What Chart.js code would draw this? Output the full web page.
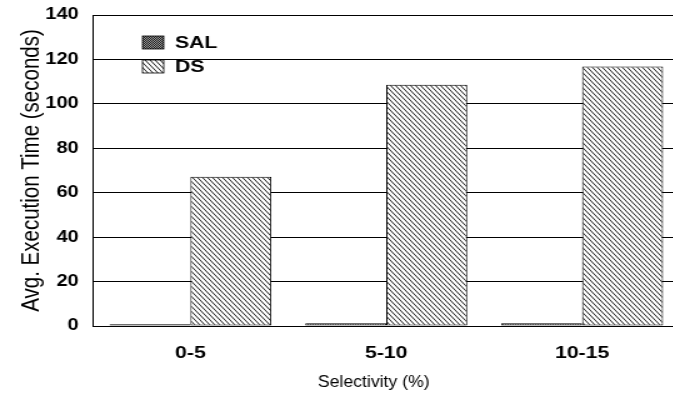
<!DOCTYPE html>
<html>
<head>
<meta charset="utf-8">
<script src="https://cdn.jsdelivr.net/npm/chart.js@4/dist/chart.umd.min.js"></script>
<style>
    html, body { margin: 0; padding: 0; background: #fff; overflow: hidden; }
    #grafico { display: block; }
</style>
</head>
<body>
<canvas id="grafico" width="544" height="394" style="width:680px;height:394px"></canvas>
<script>
const categorias = ['0-5', '5-10', '10-15'];
const valoresSAL = [0.8, 1.2, 1.2];
const valoresDS = [67.2, 108.6, 116.8];
const etiquetasSerie = ['SAL', 'DS'];
const ticksY = [0, 20, 40, 60, 80, 100, 120, 140];
const tituloX = 'Selectivity (%)';
const tituloY = 'Avg. Execution Time (seconds)';

const fuente = '"Liberation Sans", Arial, Helvetica, sans-serif';

function crearPatronSAL() {
    const c = document.createElement('canvas');
    c.width = 2;
    c.height = 2;
    const ctx = c.getContext('2d');
    ctx.fillStyle = '#9a9a9a';
    ctx.fillRect(0, 0, 2, 2);
    ctx.fillStyle = '#1a1a1a';
    ctx.fillRect(0, 0, 1, 1);
    ctx.fillRect(1, 1, 1, 1);
    return ctx.createPattern(c, 'repeat');
}

function crearPatronDS() {
    const w = 4, h = 5;
    const c = document.createElement('canvas');
    c.width = w;
    c.height = h;
    const ctx = c.getContext('2d');
    ctx.fillStyle = '#fff';
    ctx.fillRect(0, 0, w, h);
    ctx.strokeStyle = '#000';
    ctx.lineWidth = 0.9;
    [-w, 0, w].forEach((dx) => {
        ctx.beginPath();
        ctx.moveTo(dx - w, -h);
        ctx.lineTo(dx + 2 * w, 2 * h);
        ctx.stroke();
    });
    return ctx.createPattern(c, 'repeat');
}

const patronSAL = crearPatronSAL();
const patronDS = crearPatronDS();

const leyendaInterna = {
    id: 'leyendaInterna',
    afterDraw(chart) {
        const ctx = chart.ctx;
        const filas = [
            { texto: etiquetasSerie[0], patron: patronSAL, y: 36 },
            { texto: etiquetasSerie[1], patron: patronDS, y: 60 }
        ];
        ctx.save();
        filas.forEach((fila) => {
            ctx.fillStyle = fila.patron;
            ctx.fillRect(114, fila.y, 17, 13);
            ctx.strokeStyle = '#000';
            ctx.lineWidth = 0.8;
            ctx.strokeRect(114, fila.y, 17, 13);
            ctx.fillStyle = '#000';
            ctx.font = 'bold 17px ' + fuente;
            ctx.textBaseline = 'middle';
            ctx.textAlign = 'left';
            ctx.fillText(fila.texto, 140, fila.y + 7);
        });
        ctx.restore();
    }
};

// titulo del eje x, algo mas estrecho que el resto del texto
const tituloEjeX = {
    id: 'tituloEjeX',
    afterDraw(chart) {
        const ctx = chart.ctx;
        ctx.save();
        ctx.translate(299, 382);
        ctx.scale(0.83, 1);
        ctx.fillStyle = '#000';
        ctx.font = '17px ' + fuente;
        ctx.textAlign = 'center';
        ctx.textBaseline = 'middle';
        ctx.fillText(tituloX, 0, 0);
        ctx.restore();
    }
};

new Chart(document.getElementById('grafico'), {
    type: 'bar',
    data: {
        labels: categorias,
        datasets: [
            {
                label: etiquetasSerie[0],
                data: valoresSAL,
                backgroundColor: patronSAL,
                borderColor: '#000',
                borderWidth: 0.8,
                borderSkipped: false
            },
            {
                label: etiquetasSerie[1],
                data: valoresDS,
                backgroundColor: patronDS,
                borderColor: '#000',
                borderWidth: 1,
                borderSkipped: false
            }
        ]
    },
    options: {
        responsive: false,
        animation: false,
        devicePixelRatio: 1,
        layout: { padding: { top: 15, right: 0, left: 0, bottom: 0 } },
        plugins: {
            legend: { display: false },
            tooltip: { enabled: false }
        },
        datasets: {
            bar: { categoryPercentage: 0.827, barPercentage: 1 }
        },
        scales: {
            x: {
                grid: { display: false, drawTicks: false },
                border: { display: true, color: '#000', width: 1 },
                ticks: {
                    color: '#000',
                    padding: 17,
                    font: { family: fuente, size: 17, weight: 'bold' }
                },
                title: { display: false },
                afterFit(scale) {
                    scale.height = 68;
                    scale.paddingLeft = 0;
                    scale.paddingRight = 0;
                }
            },
            y: {
                min: 0,
                max: 140,
                afterBuildTicks(scale) {
                    scale.ticks = ticksY.map(v => ({ value: v }));
                },
                grid: { color: '#000', lineWidth: 1, drawTicks: false },
                border: { display: true, color: '#000', width: 1 },
                ticks: {
                    color: '#000',
                    padding: 11,
                    font: { family: fuente, size: 16, weight: 'bold' }
                },
                title: {
                    display: true,
                    text: tituloY,
                    color: '#000',
                    padding: { top: 13, bottom: 2 },
                    font: { family: fuente, size: 20.5 }
                },
                afterFit(scale) {
                    scale.width = 74;
                    scale.paddingTop = 0;
                    scale.paddingBottom = 0;
                }
            }
        }
    },
    plugins: [leyendaInterna, tituloEjeX]
});
</script>
</body>
</html>
